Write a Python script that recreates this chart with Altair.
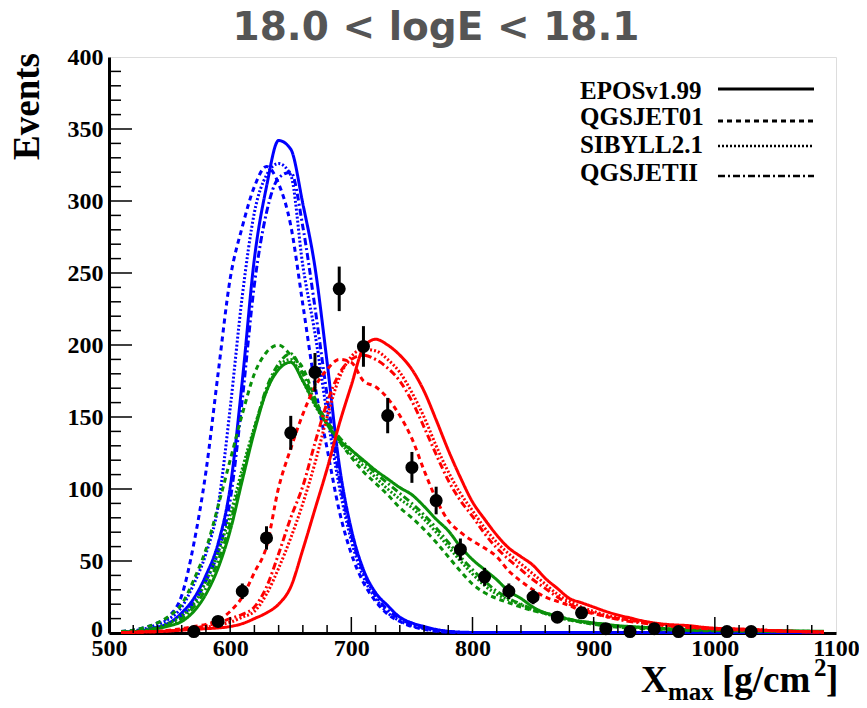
import altair as alt
import pandas as pd
import numpy as np

# ---------------- data ----------------
X_GRID = list(range(510, 1100, 10))  # bin centres 510..1090

MODELS = ["EPOSv1.99", "QGSJET01", "SIBYLL2.1", "QGSJETII"]

# Iron-like (blue)
BLUE_EPOS = [0.5, 1, 2, 4, 7, 14, 24, 40, 62, 101,
             175, 260, 310, 342, 336, 298, 254, 188, 117, 72,
             44, 28, 19, 11, 7, 4.5, 2.5, 1.2, 0.6, 0.4,
             0.3, 0.3, 0.3, 0.3, 0.3, 0.3, 0.3, 0.3, 0.3, 0.3,
             0.3, 0.3, 0.3, 0.3, 0.3, 0.3, 0.3, 0.3, 0.3, 0.3,
             0.3, 0.3, 0.3, 0.3, 0.3, 0.3, 0.3, 0.3, 0.3]
BLUE_QGS01 = [1, 2, 4, 7, 12, 26, 62, 112, 180, 246,
              282, 310, 324, 312, 283, 228, 172, 128, 85, 55,
              35, 22, 13, 8, 4.5, 2.5, 1.2, 0.6, 0.3, 0.3,
              0.3, 0.3, 0.3, 0.3, 0.3, 0.3, 0.3, 0.3, 0.3, 0.3,
              0.3, 0.3, 0.3, 0.3, 0.3, 0.3, 0.3, 0.3, 0.3, 0.3,
              0.3, 0.3, 0.3, 0.3, 0.3, 0.3, 0.3, 0.3, 0.3]
BLUE_SIB = [0.5, 1.5, 3, 6, 10, 18, 34, 55, 88, 156,
            234, 292, 318, 326, 318, 255, 208, 152, 102, 64,
            39, 24, 14, 8.5, 5, 3, 1.5, 0.7, 0.3, 0.3,
            0.3, 0.3, 0.3, 0.3, 0.3, 0.3, 0.3, 0.3, 0.3, 0.3,
            0.3, 0.3, 0.3, 0.3, 0.3, 0.3, 0.3, 0.3, 0.3, 0.3,
            0.3, 0.3, 0.3, 0.3, 0.3, 0.3, 0.3, 0.3, 0.3]
BLUE_QGS2 = [0.5, 1, 2, 4, 7, 12, 21, 36, 56, 92,
             162, 242, 292, 316, 320, 282, 226, 165, 108, 68,
             42, 26, 16, 10, 6, 3.5, 2, 1, 0.5, 0.3,
             0.3, 0.3, 0.3, 0.3, 0.3, 0.3, 0.3, 0.3, 0.3, 0.3,
             0.3, 0.3, 0.3, 0.3, 0.3, 0.3, 0.3, 0.3, 0.3, 0.3,
             0.3, 0.3, 0.3, 0.3, 0.3, 0.3, 0.3, 0.3, 0.3]

# Mixed (green)
GREEN_EPOS = [0.5, 1, 1.5, 3, 5, 8, 15, 27, 45, 71,
              106, 140, 168, 183, 188, 175, 159, 145, 134, 127,
              120, 113, 107, 101, 96, 88, 79, 71, 60, 51,
              44, 37, 29, 24, 18, 14, 12, 9.5, 8, 7,
              6, 5, 4.5, 4, 3.5, 3, 2.8, 2.5, 2.2, 2,
              2, 1.8, 1.8, 1.6, 1.5, 1.5, 1.4, 1.3, 1.3]
GREEN_QGS01 = [1, 2, 4, 7, 12, 20, 37, 58, 88, 120,
               152, 180, 195, 200, 193, 184, 163, 145, 133, 122,
               112, 104, 96, 87, 80, 72, 63, 53, 43, 34,
               28, 24, 21, 18, 15.5, 13.5, 11, 9, 7.5, 6,
               5, 4, 3.5, 3, 2.5, 2.2, 2, 1.8, 1.6, 1.5,
               1.4, 1.3, 1.2, 1.1, 1, 1, 1, 1, 1]
GREEN_SIB = [0.5, 1, 2, 4, 7, 12, 20, 36, 56, 82,
             114, 143, 168, 185, 190, 175, 158, 145, 133, 124,
             116, 108, 100, 93, 87, 79, 70, 60, 50, 41,
             33, 27, 23, 19.5, 16, 13.5, 11, 9, 7.5, 6.5,
             5.5, 4.5, 4, 3.5, 3, 2.6, 2.3, 2, 1.8, 1.7,
             1.6, 1.5, 1.4, 1.3, 1.2, 1.2, 1.1, 1.1, 1]
GREEN_QGS2 = [0.5, 1, 2, 3.5, 6, 10, 18, 31, 50, 76,
              110, 142, 170, 187, 194, 180, 161, 147, 136, 127,
              119, 111, 104, 97, 90, 82, 73, 63, 53, 44,
              36, 29, 24, 20, 16.5, 14, 11.5, 9.5, 8, 7,
              6, 5, 4.3, 3.7, 3.2, 2.8, 2.5, 2.2, 2, 1.8,
              1.7, 1.6, 1.5, 1.4, 1.3, 1.2, 1.2, 1.1, 1]

# Proton-like (red)
RED_EPOS = [0.3, 0.5, 0.8, 1, 1.5, 2, 2.5, 3, 3.5, 4.5,
            6.5, 10, 14, 20, 32, 58, 86, 114, 145, 172,
            198, 204, 200, 193, 183, 168, 148, 127, 108, 91,
            79, 68, 59, 53, 47, 38, 31, 24, 21, 18,
            15, 12.5, 10.5, 8.5, 7, 6, 5.5, 5, 4, 3.3,
            3, 2.8, 2.5, 2, 1.5, 1.2, 1, 0.8, 0.6]
RED_QGS01 = [0.3, 0.5, 0.8, 1.2, 2, 3, 4.5, 6, 9, 15,
             25, 42, 60, 101, 128, 152, 171, 183, 190, 188,
             175, 171, 163, 151, 135, 113, 93, 78, 70, 64,
             59, 53, 43, 36, 30, 25, 22, 19, 15.5, 13.5,
             11.5, 10, 9, 7.5, 6.5, 5.5, 4.5, 4, 3.5, 3,
             2.5, 2.2, 2, 1.8, 1.5, 1.2, 1, 0.8, 0.6]
RED_SIB = [0.3, 0.5, 0.8, 1, 1.5, 2, 3, 4, 5.5, 7.5,
           11, 15, 27, 45, 66, 90, 118, 150, 177, 192,
           197, 196, 190, 181, 167, 150, 130, 112, 97, 85,
           73, 63, 55, 48, 41, 34, 27, 22, 18, 15,
           12.5, 10.5, 9, 7.5, 6.5, 5.5, 4.5, 4, 3.5, 3,
           2.7, 2.4, 2.2, 2, 1.6, 1.3, 1, 0.8, 0.6]
RED_QGS2 = [0.3, 0.5, 0.8, 1, 1.5, 2.5, 3.5, 5, 7, 10,
            13, 18, 32, 55, 80, 102, 132, 160, 180, 190,
            193, 190, 184, 175, 161, 143, 124, 106, 92, 81,
            69, 59, 51, 44, 37, 31, 25, 20, 16.5, 14,
            11.5, 9.5, 8, 7, 6, 5, 4.2, 3.7, 3.2, 2.8,
            2.5, 2.2, 2, 1.8, 1.5, 1.2, 1, 0.8, 0.6]

# Measured Xmax distribution (black points)
DATA_X = [570, 590, 610, 630, 650, 670, 690, 710, 730, 750, 770, 790,
          810, 830, 850, 870, 890, 910, 930, 950, 970, 1010, 1030]
DATA_N = [1, 8, 29, 66, 139, 181, 239, 199, 151, 115, 92, 58,
          39, 29, 25, 11, 14, 3, 1, 3, 1, 1, 1]

X_LABELS = [500, 600, 700, 800, 900, 1000, 1100]
Y_LABELS = [50, 100, 150, 200, 250, 300, 350, 400]   # "0" is drawn separately, raised as in the original

# ---------------- build tables ----------------
CURVES = {
    "blue": [BLUE_EPOS, BLUE_QGS01, BLUE_SIB, BLUE_QGS2],
    "green": [GREEN_EPOS, GREEN_QGS01, GREEN_SIB, GREEN_QGS2],
    "red": [RED_EPOS, RED_QGS01, RED_SIB, RED_QGS2],
}
rows = []
for comp, lists in CURVES.items():
    for model, vals in zip(MODELS, lists):
        assert len(vals) == len(X_GRID), (comp, model, len(vals))
        for x, y in zip(X_GRID, vals):
            rows.append({"x": x, "y": y, "comp": comp, "model": model,
                         "key": comp + "|" + model})
curves = pd.DataFrame(rows)

pts = pd.DataFrame({"x": DATA_X, "y": DATA_N})
pts["lo"] = pts["y"] - np.sqrt(pts["y"])
pts["hi"] = pts["y"] + np.sqrt(pts["y"])

W, H = 727, 576
SERIF = "Liberation Serif"

xscale = alt.Scale(domain=[500, 1100], nice=False, zero=False)
yscale = alt.Scale(domain=[0, 400], nice=False, zero=False)

xaxis = alt.Axis(values=X_LABELS, title=None, grid=False, ticks=False,
                 domainWidth=3, domainColor="black", labelFont=SERIF,
                 labelFontWeight="bold", labelFontSize=24, labelColor="black",
                 labelPadding=3, labelFlush=False, labelOverlap=False, format="d")
yaxis = alt.Axis(values=Y_LABELS, title=None, grid=False, ticks=False,
                 domainWidth=3, domainColor="black", labelFont=SERIF,
                 labelFontWeight="bold", labelFontSize=24, labelColor="black",
                 labelPadding=6, labelFlush=False, labelOverlap=False, format="d")

DASHES = [[1, 0], [5, 4], [2, 2], [7, 3, 2, 3]]
WIDTHS = [3, 3, 2.5, 2.5]

lines = alt.Chart(curves).mark_line(interpolate="monotone").encode(
    x=alt.X("x:Q", scale=xscale, axis=xaxis),
    y=alt.Y("y:Q", scale=yscale, axis=yaxis),
    color=alt.Color("comp:N", scale=alt.Scale(domain=["blue", "green", "red"],
                                              range=["#0000ff", "#0a900a", "#ff0000"]),
                    legend=None),
    strokeDash=alt.StrokeDash("model:N", scale=alt.Scale(domain=MODELS, range=DASHES),
                              legend=None),
    strokeWidth=alt.StrokeWidth("model:N", scale=alt.Scale(domain=MODELS, range=WIDTHS),
                                legend=None),
    detail="key:N",
)

# inward axis ticks
MAJOR_X = [600, 700, 800, 900, 1000]
MINOR_X = [v for v in range(520, 1100, 20) if v % 100 != 0]
MAJOR_Y = [50, 100, 150, 200, 250, 300, 350]
MINOR_Y = [v for v in range(10, 400, 10) if v % 50 != 0]

def xticks(vals, length):
    return alt.Chart(pd.DataFrame({"x": vals})).mark_rule(
        color="black", strokeWidth=1.5).encode(
        x=alt.X("x:Q", scale=xscale), y=alt.value(H), y2=alt.value(H - length))

def yticks(vals, length):
    return alt.Chart(pd.DataFrame({"y": vals})).mark_rule(
        color="black", strokeWidth=1.5).encode(
        y=alt.Y("y:Q", scale=yscale), x=alt.value(0), x2=alt.value(length))

errbars = alt.Chart(pts).mark_rule(color="black", strokeWidth=3).encode(
    x=alt.X("x:Q", scale=xscale), y=alt.Y("lo:Q", scale=yscale), y2="hi:Q")
dots = alt.Chart(pts).mark_circle(color="black", opacity=1, size=170).encode(
    x=alt.X("x:Q", scale=xscale), y=alt.Y("y:Q", scale=yscale))

one = pd.DataFrame({"a": [0]})

def label(text, x, y, size, font=SERIF, align="left", color="black", angle=0,
          baseline="alphabetic"):
    return alt.Chart(one).mark_text(text=text, font=font, fontWeight="bold",
                                    fontSize=size, align=align, baseline=baseline,
                                    color=color, angle=angle).encode(
        x=alt.value(x), y=alt.value(y))

title = label("18.0 < logE < 18.1", 327, -17, 39, font="DejaVu Sans",
              align="center", color="#555555")
ytitle = label("Events", -81, -4, 37, align="right", angle=270, baseline="middle")
zero_label = label("0", -6, H - 3, 24, align="right", baseline="middle")

# x title  X_max [g/cm^2]
xt = [
    label("X", 532, 635, 37),
    label("max", 559, 643, 25),
    label("[g/cm", 613, 635, 37),
    label("2", 705, 619, 25),
    label("]", 717, 635, 37),
]

# legend
LEG_TEXT_Y = [42, 68, 96, 124]
LEG_LINE_Y = [32, 64, 89, 119]
legend_layers = []
for name, ty, ly, dash, w in zip(MODELS, LEG_TEXT_Y, LEG_LINE_Y, DASHES, WIDTHS):
    legend_layers.append(label(name, 471, ty, 25))
    legend_layers.append(alt.Chart(one).mark_rule(color="black", strokeWidth=w,
                                                  strokeDash=dash).encode(
        x=alt.value(609), x2=alt.value(705), y=alt.value(ly)))

chart = alt.layer(
    lines,
    xticks(MAJOR_X, 16), xticks(MINOR_X, 8),
    yticks(MAJOR_Y, 23), yticks(MINOR_Y, 12),
    errbars, dots,
    title, ytitle, zero_label, *xt, *legend_layers,
).properties(
    width=W, height=H,
    autosize=alt.AutoSizeParams(type="none"),
    padding={"left": 101, "top": 49, "right": 23, "bottom": 75},
).configure_view(stroke="black", strokeWidth=2).configure(background="white")

chart.save("out.html", embed_options={"renderer": "svg", "actions": False})
